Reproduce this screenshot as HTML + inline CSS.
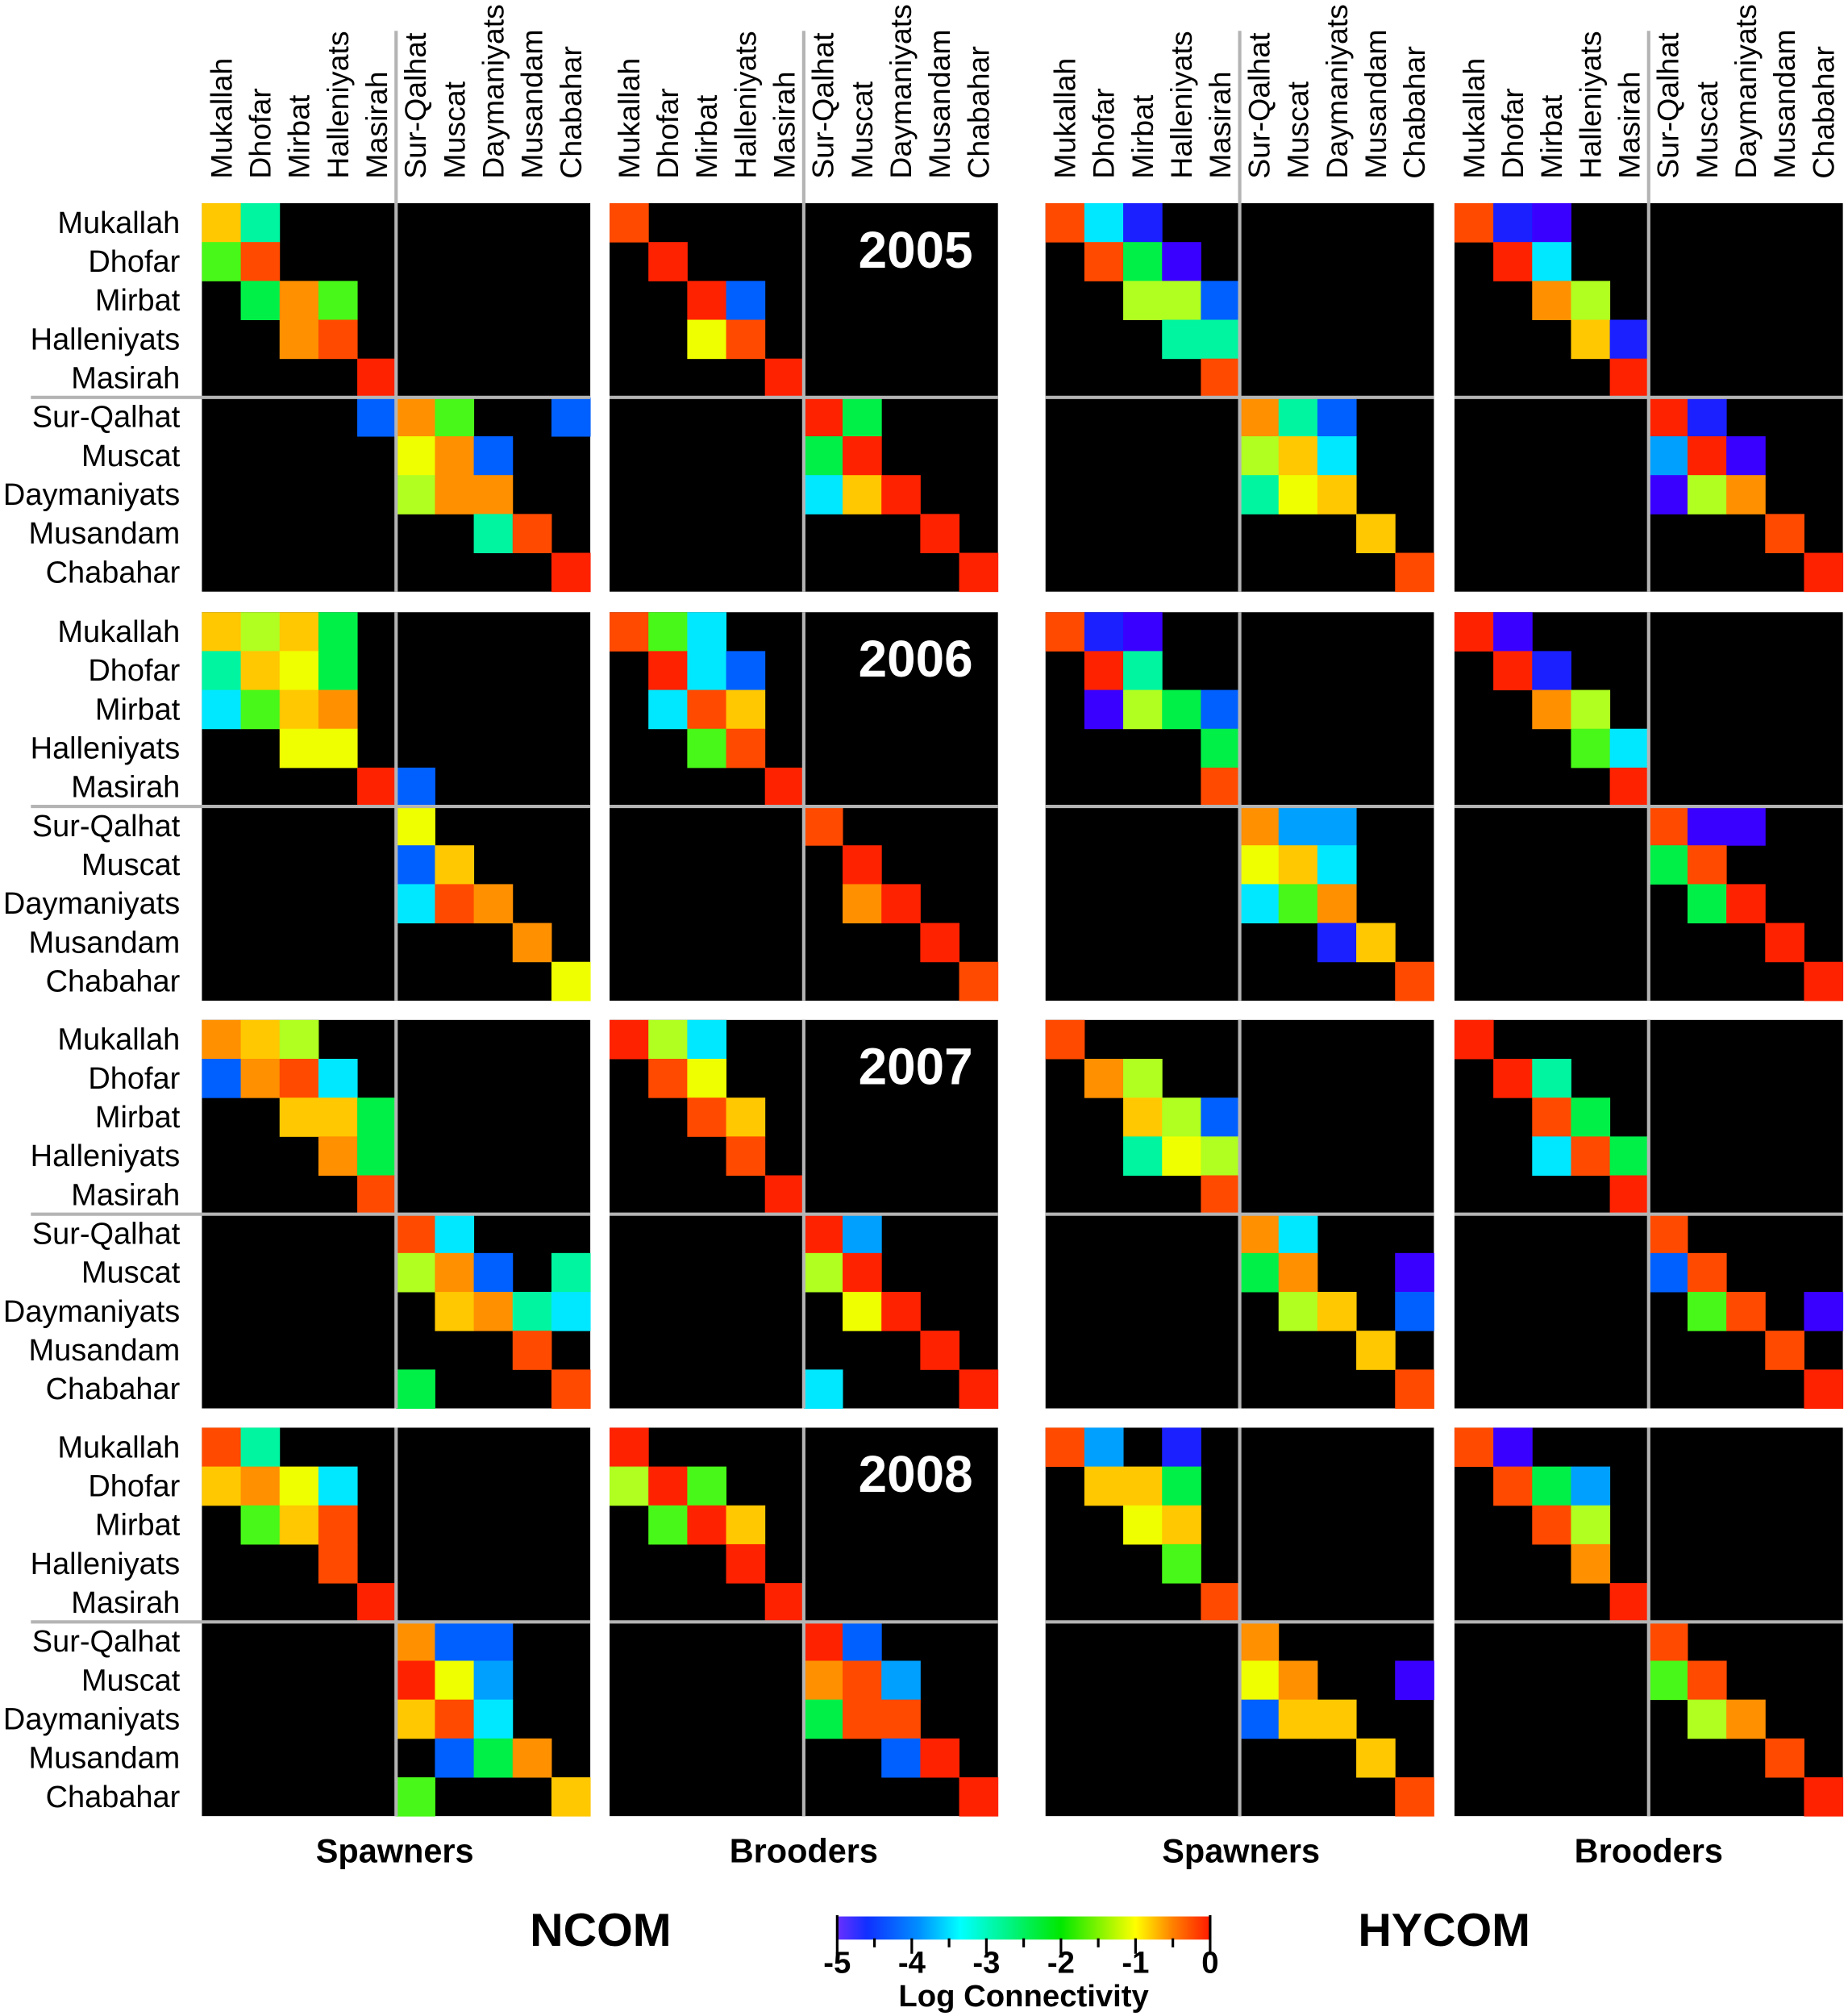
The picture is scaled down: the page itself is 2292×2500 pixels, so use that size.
<!DOCTYPE html>
<html><head><meta charset="utf-8"><style>html,body{margin:0;padding:0;background:#fff}svg{display:block}</style></head>
<body>
<svg id="s" xmlns="http://www.w3.org/2000/svg" width="2292" height="2500" viewBox="0 0 1437 1567.4" preserveAspectRatio="none" font-family="Liberation Sans, Arial, sans-serif">
<defs><linearGradient id="jet" x1="0" x2="1" y1="0" y2="0">
<stop offset="0" stop-color="#6a30ff"/><stop offset="0.08" stop-color="#1030ff"/><stop offset="0.22" stop-color="#0090ff"/><stop offset="0.33" stop-color="#00ffff"/><stop offset="0.6" stop-color="#00e800"/><stop offset="0.8" stop-color="#ffff00"/><stop offset="0.9" stop-color="#ff8000"/><stop offset="1" stop-color="#ff1a00"/></linearGradient></defs>
<g id="g"></g>
<text x="307" y="1448" font-size="26" font-weight="bold" text-anchor="middle">Spawners</text>
<text x="625" y="1448" font-size="26" font-weight="bold" text-anchor="middle">Brooders</text>
<text x="965" y="1448" font-size="26" font-weight="bold" text-anchor="middle">Spawners</text>
<text x="1282" y="1448" font-size="26" font-weight="bold" text-anchor="middle">Brooders</text>
<text x="467" y="1513" font-size="36" font-weight="bold" text-anchor="middle">NCOM</text>
<text x="1123" y="1513" font-size="36" font-weight="bold" text-anchor="middle">HYCOM</text>
<rect x="651" y="1490" width="290" height="18" fill="url(#jet)"/>
<g stroke="#000" stroke-width="2">
<line x1="651" y1="1489" x2="651" y2="1519"/><line x1="941" y1="1489" x2="941" y2="1519"/>
<line x1="709" y1="1507" x2="709" y2="1519"/><line x1="767" y1="1507" x2="767" y2="1519"/><line x1="825" y1="1507" x2="825" y2="1519"/><line x1="883" y1="1507" x2="883" y2="1519"/>
<line x1="680" y1="1507" x2="680" y2="1514"/><line x1="738" y1="1507" x2="738" y2="1514"/><line x1="796" y1="1507" x2="796" y2="1514"/><line x1="854" y1="1507" x2="854" y2="1514"/><line x1="912" y1="1507" x2="912" y2="1514"/>
</g>
<g font-size="24" font-weight="bold" text-anchor="middle">
<text x="651" y="1534">-5</text><text x="709" y="1534">-4</text><text x="767" y="1534">-3</text><text x="825" y="1534">-2</text><text x="883" y="1534">-1</text><text x="941" y="1534">0</text>
<text x="796" y="1560">Log Connectivity</text></g>
</svg>
<script>
var C={r:"#ff2200",o:"#ff4a00",O:"#ff9000",a:"#ffc800",y:"#f0ff00",l:"#b0ff20",g:"#48f818",G:"#00f048",t:"#00f5a0",c:"#00e8ff",s:"#00a0ff",b:"#0060ff",B:"#1a20ff",v:"#3a00ff"};
var M=[
["0a 1t","0g 1o","1G 2O 3g","2O 3o","4r","4b 5O 6g 9b","5y 6O 7b","5l 6O 7O","7t 8o","9r"],
["0o","1r","2r 3b","2y 3o","4r","5r 6G","5G 6r","5c 6a 7r","8r","9r"],
["0o 1c 2B","1o 2G 3v","2l 3l 4b","3t 4t","4o","5O 6t 7b","5l 6a 7c","5t 6y 7a","8a","9o"],
["0o 1B 2v","1r 2c","2O 3l","3a 4B","4r","5r 6B","5s 6r 7v","5v 6l 7O","8o","9r"],
["0a 1l 2a 3G","0t 1a 2y 3G","0c 1g 2a 3O","2y 3y","4r 5b","5y","5b 6a","5c 6o 7O","8O","9y"],
["0o 1g 2c","1r 2c 3b","1c 2o 3a","2g 3o","4r","5o","6r","6O 7r","8r","9o"],
["0o 1B 2v","1r 2t","1v 2l 3G 4b","4G","4o","5O 6s 7s","5y 6a 7c","5c 6g 7O","7B 8a","9o"],
["0r 1v","1r 2B","2O 3l","3g 4c","4r","5o 6v 7v","5G 6o","6G 7r","8r","9r"],
["0O 1a 2l","0b 1O 2o 3c","2a 3a 4G","3O 4G","4o","5o 6c","5l 6O 7b 9t","6a 7O 8t 9c","8o","5G 9o"],
["0r 1l 2c","1o 2y","2o 3a","3o","4r","5r 6s","5l 6r","6y 7r","8r","5c 9r"],
["0o","1O 2l","2a 3l 4b","2t 3y 4l","4o","5O 6c","5G 6O 9v","6l 7a 9b","8a","9o"],
["0r","1r 2t","2o 3G","2c 3o 4G","4r","5o","5b 6o","6g 7o 9v","8o","9r"],
["0o 1t","0a 1O 2y 3c","1g 2a 3o","3o","4r","5O 6b 7b","5r 6y 7s","5a 6o 7c","6b 7G 8O","5g 9a"],
["0r","0l 1r 2g","1g 2r 3a","3r","4r","5r 6b","5O 6o 7s","5G 6o 7o","7b 8r","9r"],
["0o 1s 3B","1a 2a 3G","2y 3a","3g","4o","5O","5y 6O 9v","5b 6a 7a","8a","9o"],
["0o 1v","1o 2G 3s","2o 3l","3O","4r","5o","5g 6o","6l 7O","8o","9r"]];
var X=[157,474,813,1131],Y=[158,476,793,1110],cs=30.2;
var N=["Mukallah","Dhofar","Mirbat","Halleniyats","Masirah","Sur-Qalhat","Muscat","Daymaniyats","Musandam","Chabahar"];
var h="";
for(var yr=0;yr<4;yr++)for(var p=0;p<4;p++){
 var x0=X[p],y0=Y[yr],m=M[yr*4+p];
 h+='<rect x="'+x0+'" y="'+y0+'" width="'+(cs*10)+'" height="'+(cs*10)+'" fill="#000"/>';
 for(var r=0;r<10;r++){m[r].split(" ").forEach(function(t){if(!t)return;var c=+t[0];
  h+='<rect x="'+(x0+c*cs)+'" y="'+(y0+r*cs)+'" width="'+(cs+0.3)+'" height="'+(cs+0.3)+'" fill="'+C[t[1]]+'"/>';});}
 var lx=x0+5*cs;
 h+='<line x1="'+lx+'" y1="'+(yr==0?24:y0)+'" x2="'+lx+'" y2="'+(y0+cs*10)+'" stroke="#b4b4b4" stroke-width="2.6"/>';
 h+='<line x1="'+(p==0?24:x0)+'" y1="'+(y0+5*cs)+'" x2="'+(x0+cs*10)+'" y2="'+(y0+5*cs)+'" stroke="#b4b4b4" stroke-width="2.6"/>';
}
for(var p=0;p<4;p++)for(var k=0;k<10;k++){var cx=X[p]+cs*k+cs/2+8;
 h+='<text transform="translate('+cx+',139) rotate(-90)" font-size="23.5">'+N[k]+'</text>';}
for(var yr=0;yr<4;yr++){for(var k=0;k<10;k++){
 h+='<text x="140" y="'+(Y[yr]+cs*k+cs/2+8)+'" font-size="23.8" text-anchor="end">'+N[k]+'</text>';}
 h+='<text x="712" y="'+(Y[yr]+50)+'" font-size="40" font-weight="bold" fill="#fff" text-anchor="middle">'+(2005+yr)+'</text>';}
document.getElementById("g").innerHTML=h;
</script>
</body></html>
